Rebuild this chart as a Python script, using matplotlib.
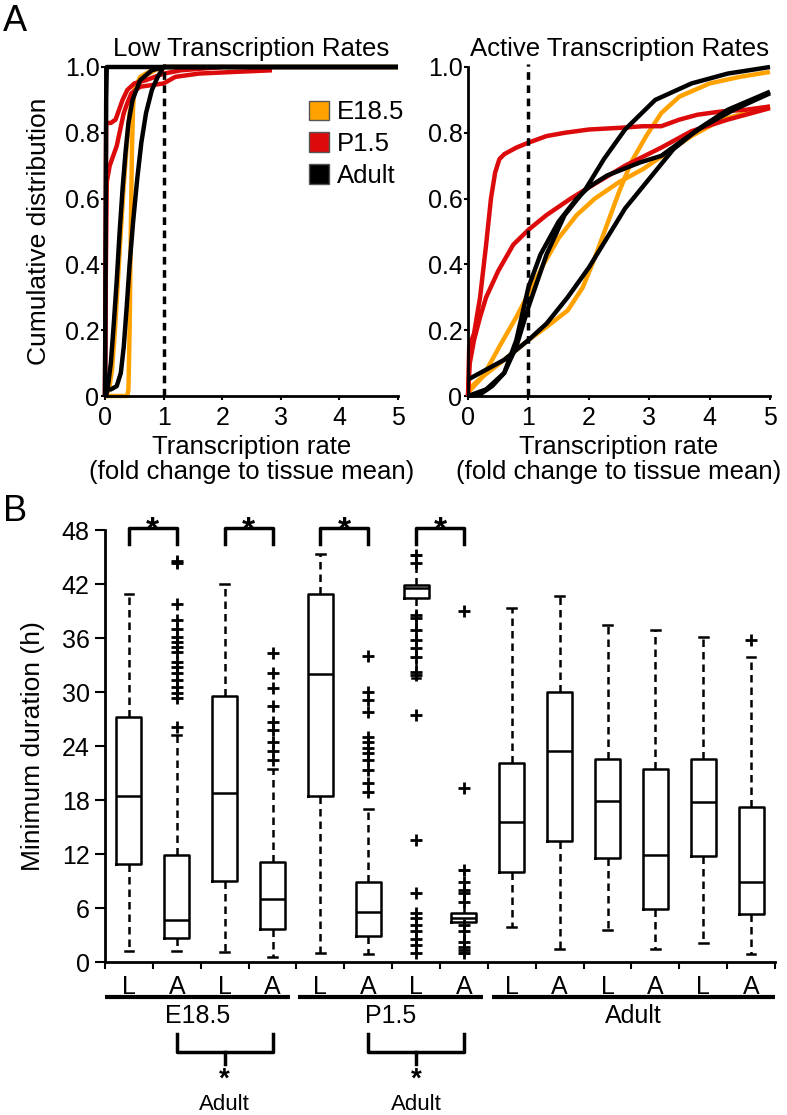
import numpy as np
import matplotlib.pyplot as plt
import matplotlib.transforms as mtransforms
from matplotlib.patches import Patch

plt.rcParams['font.family'] = ['Liberation Sans', 'DejaVu Sans']
plt.rcParams['font.size'] = 18

ORANGE = '#FFA200'
RED = '#DC0A0A'
BLACK = '#000000'

# ---- panel A, low transcription rates (x = fold change, y = cumulative fraction)
low_e18_1_x = [0.0, 0.38, 0.40, 0.42, 0.44, 0.46, 0.48, 0.50, 0.60, 0.80, 1.0, 5.0]
low_e18_1_y = [0.0, 0.0, 0.02, 0.20, 0.50, 0.75, 0.88, 0.93, 0.97, 0.99, 1.0, 1.0]
low_e18_2_x = [0.0, 0.07, 0.12, 0.17, 0.22, 0.27, 0.32, 0.37, 0.42, 0.5, 0.65, 0.85, 1.0]
low_e18_2_y = [0.0, 0.02, 0.08, 0.20, 0.35, 0.50, 0.64, 0.76, 0.86, 0.93, 0.97, 0.99, 1.0]
low_p15_1_x = [0.0, 0.01, 0.03, 0.08, 0.14, 0.20, 0.26, 0.32, 0.38, 0.45, 0.6, 0.8, 1.0, 1.2, 1.6, 2.2, 2.85]
low_p15_1_y = [0.0, 0.30, 0.65, 0.70, 0.73, 0.76, 0.81, 0.86, 0.89, 0.92, 0.94, 0.945, 0.95, 0.97, 0.98, 0.985, 0.99]
low_p15_2_x = [0.0, 0.01, 0.02, 0.10, 0.18, 0.24, 0.30, 0.38, 0.50, 0.70, 1.0, 1.3, 2.0]
low_p15_2_y = [0.0, 0.50, 0.83, 0.83, 0.84, 0.87, 0.90, 0.93, 0.95, 0.96, 0.98, 0.99, 1.0]
low_adult_1_x = [0.02, 0.05, 0.10, 0.15, 0.20, 0.25, 0.30, 0.35, 0.40, 0.47, 0.60, 0.80, 1.0, 5.0]
low_adult_1_y = [0.0, 0.03, 0.10, 0.22, 0.35, 0.50, 0.63, 0.74, 0.83, 0.90, 0.96, 0.99, 1.0, 1.0]
low_adult_2_x = [0.03, 0.10, 0.20, 0.27, 0.32, 0.37, 0.42, 0.48, 0.55, 0.62, 0.70, 0.80, 0.90, 1.0, 5.0]
low_adult_2_y = [0.02, 0.02, 0.03, 0.07, 0.15, 0.27, 0.40, 0.53, 0.66, 0.77, 0.86, 0.93, 0.97, 1.0, 1.0]
low_adult_3_x = [0.0, 0.01, 0.02, 0.03, 5.0]
low_adult_3_y = [0.0, 0.40, 0.90, 1.0, 1.0]

# ---- panel A, active transcription rates
act_e18_1_x = [0.0, 0.25, 0.6, 1.0, 1.3, 1.65, 1.9, 2.1, 2.3, 2.5, 2.7, 2.95, 3.2, 3.5, 4.0, 4.5, 5.0]
act_e18_1_y = [0.02, 0.06, 0.11, 0.17, 0.21, 0.26, 0.33, 0.42, 0.52, 0.62, 0.71, 0.79, 0.86, 0.91, 0.95, 0.97, 0.985]
act_e18_2_x = [0.0, 0.25, 0.55, 0.8, 1.0, 1.25, 1.5, 1.8, 2.1, 2.5, 2.9, 3.3, 3.7, 4.2, 5.0]
act_e18_2_y = [0.01, 0.06, 0.16, 0.24, 0.31, 0.40, 0.48, 0.55, 0.60, 0.65, 0.69, 0.74, 0.79, 0.84, 0.88]
act_p15_1_x = [0.0, 0.02, 0.1, 0.2, 0.3, 0.38, 0.45, 0.52, 0.6, 0.8, 1.0, 1.3, 1.6, 2.0, 2.5, 2.9, 3.2, 3.5, 3.8, 4.2, 4.6, 5.0]
act_p15_1_y = [0.0, 0.15, 0.19, 0.30, 0.46, 0.60, 0.68, 0.72, 0.735, 0.755, 0.77, 0.79, 0.80, 0.81, 0.815, 0.82, 0.82, 0.84, 0.855, 0.865, 0.87, 0.88]
act_p15_2_x = [0.0, 0.03, 0.1, 0.2, 0.3, 0.5, 0.75, 1.0, 1.3, 1.7, 2.1, 2.6, 3.2, 3.7, 4.3, 5.0]
act_p15_2_y = [0.0, 0.10, 0.17, 0.24, 0.30, 0.38, 0.46, 0.505, 0.55, 0.60, 0.645, 0.70, 0.755, 0.805, 0.84, 0.875]
act_adult_1_x = [0.0, 0.2, 0.4, 0.6, 0.8, 1.0, 1.3, 1.6, 1.95, 2.25, 2.6, 3.1, 3.7, 4.3, 5.0]
act_adult_1_y = [0.0, 0.005, 0.03, 0.07, 0.15, 0.27, 0.43, 0.55, 0.63, 0.72, 0.81, 0.90, 0.95, 0.98, 1.0]
act_adult_2_x = [0.0, 0.3, 0.6, 0.8, 1.0, 1.2, 1.5, 1.8, 2.0, 2.3, 2.85, 3.2, 3.5, 3.9, 4.4, 5.0]
act_adult_2_y = [0.0, 0.02, 0.07, 0.17, 0.33, 0.43, 0.53, 0.60, 0.635, 0.67, 0.71, 0.73, 0.77, 0.82, 0.87, 0.92]
act_adult_3_x = [0.0, 0.3, 0.6, 1.0, 1.3, 1.65, 2.0, 2.3, 2.6, 3.0, 3.4, 3.8, 4.3, 5.0]
act_adult_3_y = [0.05, 0.08, 0.11, 0.17, 0.22, 0.30, 0.39, 0.48, 0.57, 0.66, 0.75, 0.81, 0.87, 0.925]

# ---- panel B, box plot summaries (hours)
box_labels = ['L', 'A'] * 7
box_med = [18.4, 4.7, 18.8, 7.0, 32.0, 5.6, 41.6, 4.9, 15.6, 23.4, 17.9, 11.9, 17.8, 8.9]
box_q1 = [10.9, 2.7, 9.0, 3.7, 18.4, 2.9, 40.4, 4.4, 10.0, 13.4, 11.6, 5.9, 11.8, 5.3]
box_q3 = [27.2, 11.9, 29.6, 11.1, 40.9, 8.9, 41.9, 5.4, 22.1, 30.0, 22.6, 21.4, 22.6, 17.2]
box_lo = [1.2, 1.2, 1.1, 0.6, 1.0, 0.9, 31.6, 1.0, 3.9, 1.5, 3.6, 1.4, 2.1, 0.9]
box_hi = [40.9, 25.2, 42.0, 21.4, 45.3, 17.0, 45.2, 10.2, 39.3, 40.7, 37.4, 36.9, 36.1, 33.9]
box_out = [
    [],
    [26.1, 29.3, 29.9, 30.6, 31.3, 32.1, 32.8, 33.3, 34.4, 35.0, 35.6, 36.1, 37.0, 38.0, 39.8, 44.3, 44.6],
    [],
    [22.5, 23.4, 24.5, 25.8, 26.7, 28.4, 30.5, 32.1, 34.3],
    [],
    [18.9, 19.9, 21.3, 22.4, 23.2, 23.8, 24.5, 25.0, 27.8, 29.1, 30.0, 34.0],
    [1.0, 1.9, 2.6, 3.4, 4.1, 4.9, 5.4, 7.7, 13.6, 27.4, 31.9, 32.2, 33.9, 34.9, 35.8, 36.9, 38.2, 38.6, 44.3, 45.2],
    [1.0, 1.3, 1.7, 2.2, 3.4, 4.1, 6.7, 7.7, 8.0, 8.9, 10.2, 19.3, 39.0],
    [], [], [], [], [],
    [35.8],
]
group_names = ['E18.5', 'P1.5', 'Adult']
group_spans = [(0.5, 4.36), (4.53, 8.39), (8.58, 14.5)]
top_pairs = [(1, 2), (3, 4), (5, 6), (7, 8)]
bottom_pairs = [(2, 4), (6, 8)]

fig = plt.figure(figsize=(7.87, 11.15), dpi=100)
W, H = 787.0, 1115.0
ax1 = fig.add_axes([105 / W, 1 - 396 / H, 293 / W, 329 / H])
ax2 = fig.add_axes([468 / W, 1 - 396 / H, 302 / W, 329 / H])
ax3 = fig.add_axes([105 / W, 1 - 962 / H, 670 / W, 432 / H])


def style_cdf(ax, title):
    ax.set_xlim(0, 5)
    ax.set_ylim(0, 1)
    for s in ['top', 'right']:
        ax.spines[s].set_visible(False)
    for s in ['left', 'bottom']:
        ax.spines[s].set_linewidth(2)
    ax.set_xticks(range(6))
    ax.set_yticks([0, 0.2, 0.4, 0.6, 0.8, 1.0])
    ax.set_yticklabels(['0', '0.2', '0.4', '0.6', '0.8', '1.0'])
    ax.tick_params(direction='out', length=3, width=1.5)
    ax.tick_params(axis='x', pad=4)
    ax.tick_params(axis='y', pad=1)
    ax.plot([1, 1], [0, 1.01], color='k', ls=(0, (2.2, 1.6)), lw=2.5, clip_on=False, zorder=5)
    ax.set_xlabel('Transcription rate\n(fold change to tissue mean)', linespacing=1.05,
                  labelpad=4, fontsize=18.5)
    ax.set_title(title, fontsize=18.5, pad=8)


def cdf(ax, x, y, c):
    ax.plot(x, y, color=c, lw=3.2, clip_on=False, solid_capstyle='butt')


style_cdf(ax1, 'Low Transcription Rates')
cdf(ax1, low_e18_1_x, low_e18_1_y, ORANGE)
cdf(ax1, low_e18_2_x, low_e18_2_y, ORANGE)
cdf(ax1, low_p15_1_x, low_p15_1_y, RED)
cdf(ax1, low_p15_2_x, low_p15_2_y, RED)
cdf(ax1, low_adult_1_x, low_adult_1_y, BLACK)
cdf(ax1, low_adult_2_x, low_adult_2_y, BLACK)
cdf(ax1, low_adult_3_x, low_adult_3_y, BLACK)
ax1.set_ylabel('Cumulative distribution', labelpad=10, fontsize=19)

handles = [Patch(facecolor=c, edgecolor='#555555', lw=1) for c in [ORANGE, RED, BLACK]]
ax1.legend(handles, ['E18.5', 'P1.5', 'Adult'], loc='upper left', bbox_to_anchor=(0.66, 0.93),
           frameon=False, handlelength=0.8, handleheight=0.8, handletextpad=0.3,
           labelspacing=0.3, borderaxespad=0, fontsize=18.5)

style_cdf(ax2, 'Active Transcription Rates')
cdf(ax2, act_e18_1_x, act_e18_1_y, ORANGE)
cdf(ax2, act_e18_2_x, act_e18_2_y, ORANGE)
cdf(ax2, act_p15_1_x, act_p15_1_y, RED)
cdf(ax2, act_p15_2_x, act_p15_2_y, RED)
cdf(ax2, act_adult_1_x, act_adult_1_y, BLACK)
cdf(ax2, act_adult_2_x, act_adult_2_y, BLACK)
cdf(ax2, act_adult_3_x, act_adult_3_y, BLACK)

# ---- panel B
stats = []
for i in range(len(box_med)):
    stats.append(dict(med=box_med[i], q1=box_q1[i], q3=box_q3[i],
                      whislo=box_lo[i], whishi=box_hi[i], fliers=box_out[i]))
pos = np.arange(1, len(box_med) + 1)
ax3.bxp(stats, positions=pos, widths=0.52, capwidths=0.18,
        boxprops=dict(lw=1.8, color='k'),
        whiskerprops=dict(ls=(0, (3, 2)), lw=1.8, color='k'),
        capprops=dict(lw=1.8, color='k'),
        medianprops=dict(lw=1.8, color='k'),
        flierprops=dict(marker='+', markeredgecolor='k', markersize=9, markeredgewidth=2))
ax3.set_xlim(0.5, 14.5)
ax3.set_ylim(0, 48)
for s in ['top', 'right']:
    ax3.spines[s].set_visible(False)
for s in ['left', 'bottom']:
    ax3.spines[s].set_linewidth(2)
ax3.set_yticks(range(0, 49, 6))
ax3.tick_params(axis='y', direction='out', length=7, width=1.5, pad=4)
ax3.set_xticks(np.arange(0.5, 15, 1))
ax3.set_xticklabels([''] * 15)
ax3.set_xticks(pos, labels=box_labels, minor=True)
ax3.tick_params(axis='x', which='major', direction='out', length=5, width=1.5)
ax3.tick_params(axis='x', which='minor', length=0, pad=9)
ax3.set_ylabel('Minimum duration (h)', labelpad=12, fontsize=19)

trans = mtransforms.blended_transform_factory(ax3.transData, ax3.transAxes)
for name, (a, b) in zip(group_names, group_spans):
    ax3.plot([a, b], [-0.081, -0.081], color='k', lw=3, transform=trans, clip_on=False,
             solid_capstyle='butt')
    ax3.text((a + b) / 2, -0.125, name, transform=trans, ha='center', va='center')

for a, b in top_pairs:
    ax3.plot([a, a, b, b], [46.5, 48.2, 48.2, 46.5], color='k', lw=2.5, clip_on=False)
    ax3.text((a + b) / 2, 46.9, '*', ha='center', va='baseline', fontsize=24, fontweight='bold')

# comparison brackets against the adult samples, below the group labels
for a, b in bottom_pairs:
    m = (a + b) / 2
    ax3.plot([a, a, b, b], [-0.167, -0.208, -0.208, -0.167], color='k', lw=2.5,
             transform=trans, clip_on=False)
    ax3.plot([m, m], [-0.208, -0.236], color='k', lw=2.5, transform=trans, clip_on=False)
    ax3.text(m, -0.2894, '*', transform=trans, ha='center', va='baseline', fontsize=20,
             fontweight='bold')
    ax3.text(m, -0.3426, 'Adult', transform=trans, ha='center', va='baseline', fontsize=16)

fig.text(3 / W, 1 - 4 / H, 'A', fontsize=26, va='top', ha='left')
fig.text(3 / W, 1 - 494 / H, 'B', fontsize=26, va='top', ha='left')

fig.savefig('out.png', dpi=100)
